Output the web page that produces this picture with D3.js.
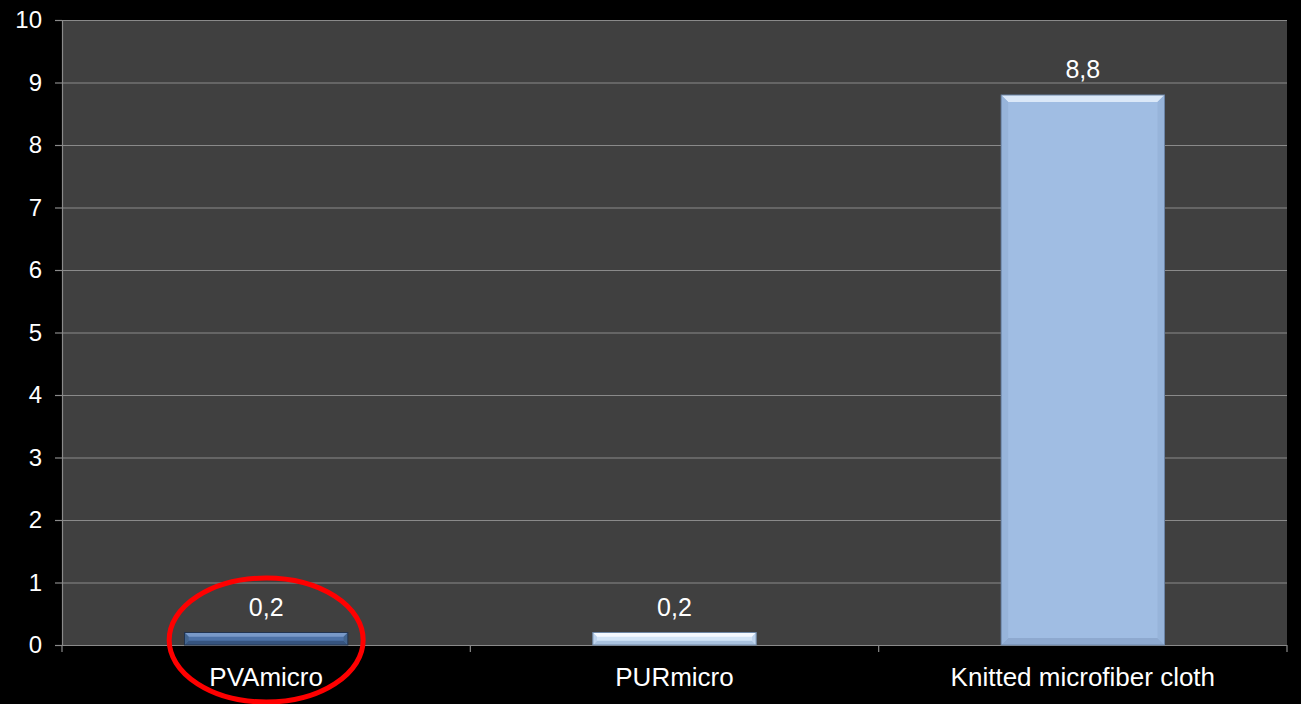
<!DOCTYPE html>
<html><head><meta charset="utf-8">
<script src="https://cdn.jsdelivr.net/npm/d3@7"></script>
<style>html,body{margin:0;padding:0;background:#000;}svg{display:block;}</style>
</head><body>
<svg id="c" width="1301" height="704"></svg>
<script>
const categories = ["PVAmicro", "PURmicro", "Knitted microfiber cloth"];
const values = [0.2, 0.2, 8.8];
const valueLabels = ["0,2", "0,2", "8,8"];
const yTicks = [0,1,2,3,4,5,6,7,8,9,10];
const barColors = [
  {main:"#4d72a7", top:"#7899c8", bottom:"#36547f", side:"#43658f", stroke:"#22344f"},
  {main:"#d2e4f7", top:"#f4f9ff", bottom:"#a9c2df", side:"#bed4ee", stroke:"#6d86a5"},
  {main:"#a0bde3", top:"#dbe8f8", bottom:"#8ea9cf", side:"#97b4da", stroke:"#6b84a6"}
];
const highlighted = "PVAmicro";

const svg = d3.select("#c");
const m = {l:62, r:14, t:20, b:59};
const W = 1301, H = 704;
const FONT = "'Liberation Sans', Arial, sans-serif";
const x = d3.scaleBand().domain(categories).range([m.l, W - m.r]).paddingInner(0).paddingOuter(0);
const y = d3.scaleLinear().domain([0,10]).range([H - m.b, m.t]);

svg.append("rect").attr("x",0).attr("y",0).attr("width",W).attr("height",H).attr("fill","#000");
svg.append("rect").attr("x",m.l).attr("y",m.t).attr("width",W-m.r-m.l).attr("height",y(0)-m.t).attr("fill","#404040");

// gridlines
svg.append("g").selectAll("line").data(yTicks.filter(d=>d>0)).join("line")
  .attr("x1",m.l).attr("x2",W-m.r).attr("y1",d=>y(d)+0.5).attr("y2",d=>y(d)+0.5)
  .attr("stroke","#8a8a8a").attr("stroke-width",1.2);

// y axis
const yAxis = d3.axisLeft(y).tickValues(yTicks).tickSize(7).tickPadding(13).tickFormat(d3.format("d"));
const gy = svg.append("g").attr("transform",`translate(${m.l},0)`).call(yAxis);
gy.select(".domain").attr("stroke","#8a8a8a").attr("stroke-width",1.2);
gy.selectAll(".tick line").attr("stroke","#8a8a8a").attr("stroke-width",1.2);
gy.selectAll(".tick text").attr("fill","#fff").attr("font-family",FONT).attr("font-size",24);

// x axis
const gx = svg.append("g").attr("transform",`translate(0,${y(0)})`)
  .call(d3.axisBottom(x).tickSize(0).tickPadding(0));
gx.select(".domain").remove();
gx.selectAll(".tick text").attr("fill","#fff").attr("font-family",FONT).attr("font-size",26)
  .attr("y",41).attr("dy",0);
svg.append("line").attr("x1",m.l).attr("x2",W-m.r).attr("y1",y(0)+0.5).attr("y2",y(0)+0.5).attr("stroke","#8a8a8a").attr("stroke-width",1.2);
const bounds = [m.l, ...categories.map(c=>x(c)+x.bandwidth())];
svg.append("g").selectAll("line").data(bounds).join("line")
  .attr("x1",d=>d).attr("x2",d=>d).attr("y1",y(0)).attr("y2",y(0)+7)
  .attr("stroke","#8a8a8a").attr("stroke-width",1.2);

// bars
const bw = x.bandwidth()*0.4;
const bars = svg.append("g");
categories.forEach((c,i)=>{
  const x0 = x(c) + (x.bandwidth()-bw)/2;
  const y0 = y(values[i]);
  const h = y(0) - y0;
  const col = barColors[i];
  const b = Math.min(7, h/3);
  const g = bars.append("g");
  g.append("rect").attr("x",x0).attr("y",y0).attr("width",bw).attr("height",h).attr("fill",col.main);
  g.append("polygon").attr("points",[[x0,y0],[x0+bw,y0],[x0+bw-b,y0+b],[x0+b,y0+b]].join(" ")).attr("fill",col.top);
  g.append("polygon").attr("points",[[x0,y0+h],[x0+bw,y0+h],[x0+bw-b,y0+h-b],[x0+b,y0+h-b]].join(" ")).attr("fill",col.bottom);
  g.append("polygon").attr("points",[[x0,y0],[x0+b,y0+b],[x0+b,y0+h-b],[x0,y0+h]].join(" ")).attr("fill",col.side);
  g.append("polygon").attr("points",[[x0+bw,y0],[x0+bw-b,y0+b],[x0+bw-b,y0+h-b],[x0+bw,y0+h]].join(" ")).attr("fill",col.side);
  g.append("rect").attr("x",x0).attr("y",y0).attr("width",bw).attr("height",h).attr("fill","none").attr("stroke",col.stroke).attr("stroke-width",1);
  svg.append("text").attr("x",x(c)+x.bandwidth()/2).attr("y",y0-17)
    .attr("text-anchor","middle").attr("fill","#fff")
    .attr("font-family",FONT).attr("font-size",25)
    .text(valueLabels[i]);
});

// highlight ellipse
svg.append("ellipse")
  .attr("cx", x(highlighted)+x.bandwidth()/2).attr("cy", y(0)-5)
  .attr("rx", 97).attr("ry", 62)
  .attr("fill","none").attr("stroke","#ff0000").attr("stroke-width",5);
</script>
</body></html>
